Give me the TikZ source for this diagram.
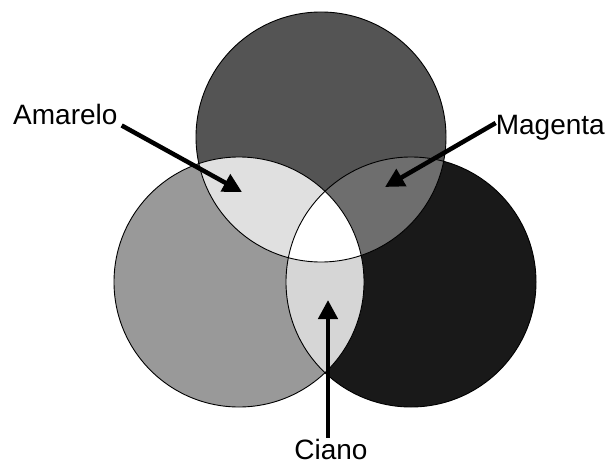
\documentclass[tikz,border=0pt]{standalone}
\usepackage{fontspec}
\setmainfont{Liberation Sans}
\usetikzlibrary{arrows.meta}
% tons de cinza de cada regiao
\definecolor{tomtopo}{gray}{0.33}
\definecolor{tomesq}{gray}{0.60}
\definecolor{tomdir}{gray}{0.10}
\definecolor{tomamarelo}{gray}{0.88}
\definecolor{tommagenta}{gray}{0.43}
\definecolor{tomciano}{gray}{0.84}

\begin{document}
\begin{tikzpicture}[x=1pt, y=-1pt,
        rim/.style={draw=black, line width=0.9pt},
        pointer/.style={-{Triangle[length=19pt, width=19pt]}, line width=4.5pt},
        lbl/.style={inner sep=0pt, font=\fontsize{28}{32}\selectfont}]
      % raio comum dos tres circulos (1 unidade = 1 pixel da figura)
      \def\rc{125pt}
      \useasboundingbox (0,0) rectangle (609,465);
      \coordinate (ctop) at (321,137);
      \coordinate (cleft) at (239,282);
      \coordinate (cright) at (411,282);
      % Circulos cheios
      \fill[tomesq] (cleft) circle[radius=\rc];
      \fill[tomdir] (cright) circle[radius=\rc];
      \fill[tomtopo] (ctop) circle[radius=\rc];
      % Intersecoes dois a dois
      \begin{scope}
        \clip (ctop) circle[radius=\rc];
        \fill[tomamarelo] (cleft) circle[radius=\rc];
        \fill[tommagenta] (cright) circle[radius=\rc];
      \end{scope}
      \begin{scope}
        \clip (cleft) circle[radius=\rc];
        \fill[tomciano] (cright) circle[radius=\rc];
        % Intersecao dos tres
        \clip (cright) circle[radius=\rc];
        \fill[white] (ctop) circle[radius=\rc];
      \end{scope}
      % Contornos
      \draw[rim] (ctop) circle[radius=\rc];
      \draw[rim] (cleft) circle[radius=\rc];
      \draw[rim] (cright) circle[radius=\rc];
      % Rotulos
      \node[lbl, anchor=base west] (amarelo) at (13,125) {Amarelo};
      \node[lbl, anchor=base east] (magenta) at (605,135) {Magenta};
      \node[lbl, anchor=base] (ciano) at (331,459) {Ciano};
      % Pontas das setas
      \coordinate (pamarelo) at (242,192);
      \coordinate (pmagenta) at (385,187);
      \coordinate (pciano) at (328,300);
      \draw[pointer] ([xshift=4pt]amarelo.south east) -- (pamarelo);
      \draw[pointer] ([yshift=12pt]magenta.base west) -- (pmagenta);
      \draw[pointer] ([xshift=-3pt, yshift=1pt]ciano.north) -- (pciano);
    \end{tikzpicture}
\end{document}
